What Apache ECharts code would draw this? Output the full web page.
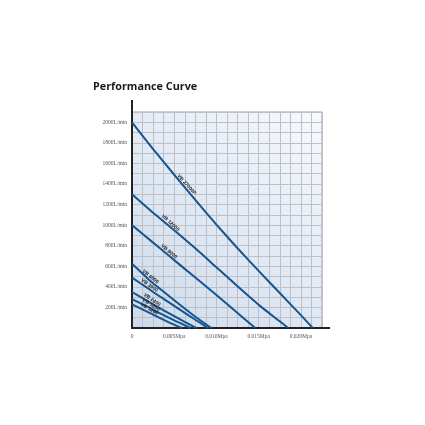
<!DOCTYPE html>
<html>
<head>
<meta charset="utf-8">
<script src="https://cdn.jsdelivr.net/npm/echarts@6/dist/echarts.min.js"></script>
<style>html,body{margin:0;padding:0;background:#fff;}#c{width:425px;height:425px;}</style>
</head>
<body>
<div id="c"></div>
<script>
const titleText = 'Performance Curve';
const xTickValues = [0, 0.005, 0.010, 0.015, 0.020];
const xTickLabels = ['0', '0.005Mpa', '0.010Mpa', '0.015Mpa', '0.020Mpa'];
const yTickValues = [200, 400, 600, 800, 1000, 1200, 1400, 1600, 1800, 2000];
const yTickLabels = ['200L/min', '400L/min', '600L/min', '800L/min', '1000L/min', '1200L/min', '1400L/min', '1600L/min', '1800L/min', '2000L/min'];

const seriesNames = ['VB 27000P', 'VB 12000', 'VB 8000', 'VB 6000', 'VB 3900', 'VB 2400', 'VB 1650', 'VB 1200'];
const vb27000P_x = [0, 0.0025, 0.005, 0.00625, 0.0075, 0.010, 0.0125, 0.015, 0.0175, 0.020, 0.0214];
const vb27000P_y = [2000, 1740, 1490, 1368, 1245, 1005, 775, 555, 340, 125, 0];
const vb12000_x = [0, 0.0025, 0.00435, 0.005, 0.0075, 0.010, 0.0125, 0.015, 0.0175, 0.0185];
const vb12000_y = [1300, 1120, 995, 950, 775, 590, 405, 225, 65, 0];
const vb8000_x = [0, 0.0025, 0.0042, 0.005, 0.0075, 0.010, 0.0125, 0.0146];
const vb8000_y = [1000, 830, 715, 660, 490, 320, 145, 0];
const vb6000_x = [0, 0.002, 0.0025, 0.005, 0.0075, 0.0094];
const vb6000_y = [625, 470, 435, 270, 110, 0];
const vb3900_x = [0, 0.0019, 0.0025, 0.005, 0.0075, 0.0090];
const vb3900_y = [490, 385, 350, 215, 80, 0];
const vb2400_x = [0, 0.0022, 0.0025, 0.005, 0.0076];
const vb2400_y = [350, 245, 230, 115, 0];
const vb1650_x = [0, 0.0021, 0.0025, 0.005, 0.0069];
const vb1650_y = [280, 195, 175, 75, 0];
const vb1200_x = [0, 0.0019, 0.0025, 0.0045, 0.0059];
const vb1200_y = [230, 155, 130, 50, 0];

const curveX = [vb27000P_x, vb12000_x, vb8000_x, vb6000_x, vb3900_x, vb2400_x, vb1650_x, vb1200_x];
const curveY = [vb27000P_y, vb12000_y, vb8000_y, vb6000_y, vb3900_y, vb2400_y, vb1650_y, vb1200_y];
const labelIndex = [3, 2, 2, 1, 1, 1, 1, 1];
const labelRotate = [-48, -42, -40, -38, -36, -34, -32, -30];

const chart = echarts.init(document.getElementById('c'), null, {renderer: 'canvas'});

const series = seriesNames.map((name, i) => ({
  name: name,
  type: 'line',
  smooth: 0.2,
  symbol: 'circle',
  symbolSize: 0,
  showSymbol: true,
  lineStyle: {color: '#16558f', width: 2},
  itemStyle: {color: '#16558f'},
  data: curveX[i].map((x, j) => {
    const d = {value: [x, curveY[i][j]]};
    if (j === labelIndex[i]) {
      d.label = {show: true, formatter: name, position: 'top', distance: 1, rotate: labelRotate[i],
        fontSize: 5, color: '#222', fontFamily: 'Liberation Sans', fontWeight: 'bold'};
    }
    return d;
  }),
  z: 3
}));

chart.setOption({
  animation: false,
  backgroundColor: '#ffffff',
  title: {
    text: titleText, left: 88, top: 76,
    textStyle: {fontFamily: 'Open Sans', fontWeight: 'bold', fontSize: 10.8, color: '#1a1a1a'}
  },
  grid: {
    left: 132, top: 112, right: 103, bottom: 97,
    show: true, borderColor: '#9a9ea6', borderWidth: 1,
    backgroundColor: {type: 'linear', x: 0, y: 1, x2: 1, y2: 0,
      colorStops: [{offset: 0, color: '#cddaeb'}, {offset: 1, color: '#f7f9fc'}]}
  },
  xAxis: {
    type: 'value', min: 0, max: 0.0225, interval: 0.00125,
    axisLine: {show: true, lineStyle: {color: '#222', width: 2}, symbol: ['none', 'rect'], symbolSize: [2, 16]},
    axisTick: {show: false},
    splitLine: {show: true, lineStyle: {color: '#bcc1c9', width: 1}},
    axisLabel: {
      fontSize: 5.5, color: '#555', fontFamily: 'Liberation Serif', margin: 6, showMaxLabel: false,
      formatter: v => {
        const k = xTickValues.findIndex(t => Math.abs(t - v) < 1e-7);
        return k >= 0 ? xTickLabels[k] : '';
      }
    }
  },
  yAxis: {
    type: 'value', min: 0, max: 2100, interval: 100,
    axisLine: {show: true, lineStyle: {color: '#222', width: 2}, symbol: ['none', 'rect'], symbolSize: [2, 24]},
    axisTick: {show: false},
    splitLine: {show: true, lineStyle: {color: '#bcc1c9', width: 1}},
    axisLabel: {
      fontSize: 5.5, color: '#555', fontFamily: 'Liberation Serif', margin: 5, showMaxLabel: false,
      formatter: v => {
        const k = yTickValues.findIndex(t => Math.abs(t - v) < 1e-6);
        return k >= 0 ? yTickLabels[k] : '';
      }
    }
  },
  series: series
});
</script>
</body>
</html>
